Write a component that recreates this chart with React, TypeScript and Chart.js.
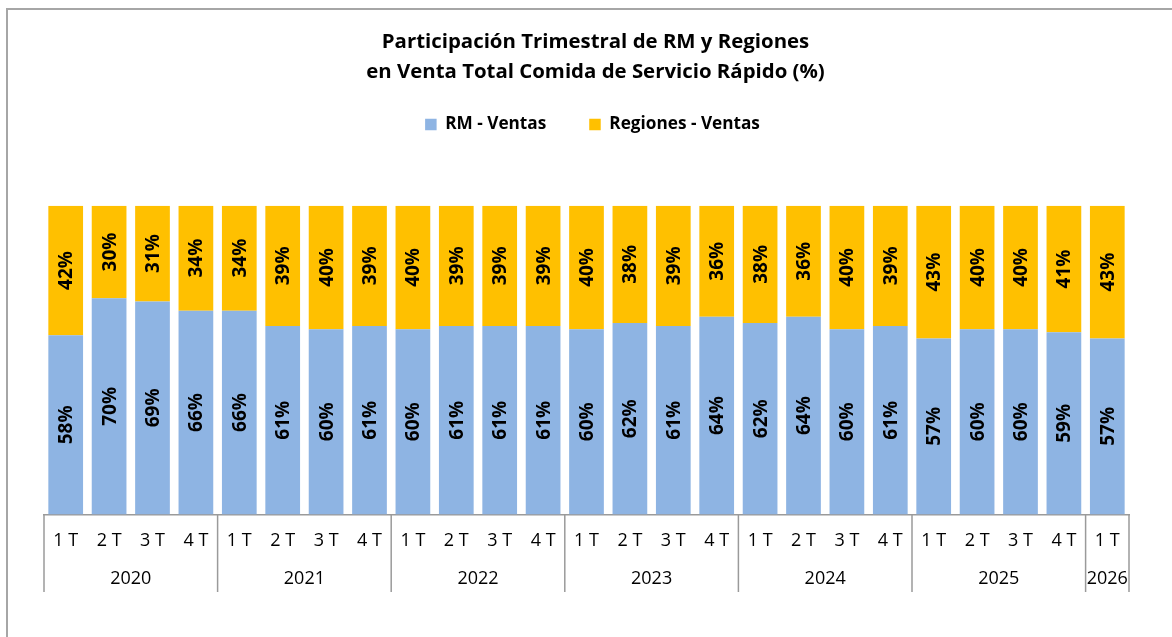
import React, { useEffect, useRef } from "react";
import { Chart, registerables } from "chart.js";

Chart.register(...registerables);

const titleLines = [
  "Participación Trimestral de RM y Regiones",
  "en Venta Total Comida de Servicio Rápido (%)",
];

const quarters = [
  "1 T", "2 T", "3 T", "4 T",
  "1 T", "2 T", "3 T", "4 T",
  "1 T", "2 T", "3 T", "4 T",
  "1 T", "2 T", "3 T", "4 T",
  "1 T", "2 T", "3 T", "4 T",
  "1 T", "2 T", "3 T", "4 T",
  "1 T",
];

const years = ["2020", "2021", "2022", "2023", "2024", "2025", "2026"];
const quartersPerYear = [4, 4, 4, 4, 4, 4, 1];

const rmVentas = [
  58, 70, 69, 66,
  66, 61, 60, 61,
  60, 61, 61, 61,
  60, 62, 61, 64,
  62, 64, 60, 61,
  57, 60, 60, 59,
  57,
];

const regionesVentas = [
  42, 30, 31, 34,
  34, 39, 40, 39,
  40, 39, 39, 39,
  40, 38, 39, 36,
  38, 36, 40, 39,
  43, 40, 40, 41,
  43,
];

const FONT = "'Open Sans', Lato, sans-serif";

const legendSpacing = {
  id: "legendSpacing",
  beforeInit(chart: any) {
    const legend = chart.legend;
    if (!legend) return;
    const origFit = legend.fit;
    legend.fit = function () {
      origFit.bind(legend)();
      this.height += 62.5;
    };
  },
  afterLayout(chart: any) {
    if (chart.titleBlock) chart.titleBlock.left += 18;
    if (chart.legend) chart.legend.left += 12;
  },
};

const dataLabels = {
  id: "dataLabels",
  afterDatasetsDraw(chart: any) {
    const ctx = chart.ctx;
    chart.data.datasets.forEach((ds: any, i: number) => {
      const meta = chart.getDatasetMeta(i);
      meta.data.forEach((el: any, j: number) => {
        const p = el.getProps(["x", "y", "base"], true);
        const cy = (p.y + p.base) / 2;
        ctx.save();
        ctx.translate(p.x, cy);
        ctx.rotate(-Math.PI / 2);
        ctx.textAlign = "center";
        ctx.textBaseline = "middle";
        ctx.fillStyle = "#000";
        ctx.font = `bold 19px ${FONT}`;
        ctx.fillText(`${ds.data[j]}%`, 0, 1);
        ctx.restore();
      });
    });
  },
};

const yearAxis = {
  id: "yearAxis",
  afterDraw(chart: any) {
    const ctx = chart.ctx;
    const x = chart.scales.x;
    const area = chart.chartArea;
    const n = quarters.length;
    const pitch = (x.right - x.left) / n;
    const lineBottom = 592;
    ctx.save();
    ctx.strokeStyle = "#9a9a9a";
    ctx.lineWidth = 1.5;
    let idx = 0;
    const drawLine = (px: number) => {
      ctx.beginPath();
      ctx.moveTo(px, area.bottom);
      ctx.lineTo(px, lineBottom);
      ctx.stroke();
    };
    drawLine(x.left);
    ctx.fillStyle = "#000";
    ctx.font = `18px ${FONT}`;
    ctx.textAlign = "center";
    ctx.textBaseline = "middle";
    years.forEach((yr, g) => {
      const start = x.left + idx * pitch;
      idx += quartersPerYear[g];
      const end = x.left + idx * pitch;
      drawLine(end);
      ctx.fillText(yr, (start + end) / 2, 579);
    });
    ctx.restore();
  },
};

export default function App() {
  const ref = useRef<HTMLCanvasElement | null>(null);

  useEffect(() => {
    if (!ref.current) return;
    const chart = new Chart(ref.current, {
      type: "bar",
      data: {
        labels: quarters,
        datasets: [
          {
            label: "RM - Ventas",
            data: rmVentas,
            backgroundColor: "#8EB4E3",
            borderWidth: 0,
            barPercentage: 0.8,
            categoryPercentage: 1,
          },
          {
            label: "Regiones - Ventas",
            data: regionesVentas,
            backgroundColor: "#FFC000",
            borderWidth: 0,
            barPercentage: 0.8,
            categoryPercentage: 1,
          },
        ],
      },
      options: {
        responsive: false,
        animation: false,
        layout: { padding: { left: 44, right: 43, top: 0, bottom: 69 } },
        scales: {
          x: {
            stacked: true,
            grid: { display: false, drawTicks: false },
            border: { display: true, color: "#9a9a9a", width: 1.5 },
            ticks: {
              color: "#000",
              font: { family: FONT, size: 18 },
              padding: 16,
              maxRotation: 0,
              autoSkip: false,
            },
          },
          y: {
            stacked: true,
            display: false,
            min: 0,
            max: 100,
          },
        },
        plugins: {
          title: {
            display: true,
            text: titleLines,
            color: "#000",
            font: { family: FONT, size: 20.4, weight: "bold", lineHeight: "30px" },
            padding: { top: 27, bottom: -14 },
          },
          legend: {
            display: true,
            position: "top",
            labels: {
              color: "#000",
              boxWidth: 11.5,
              boxHeight: 11.5,
              padding: 43,
              font: { family: FONT, size: 17.2, weight: "bold" },
            },
          },
          tooltip: { enabled: false },
        },
      },
      plugins: [legendSpacing, dataLabels, yearAxis],
    });
    return () => chart.destroy();
  }, []);

  return (
    <div
      style={{
        position: "absolute",
        left: 0,
        top: 0,
        width: 1172,
        height: 637,
        overflow: "hidden",
        background: "#fff",
      }}
    >
      <div
        style={{
          position: "absolute",
          left: 6,
          top: 8,
          width: 1300,
          height: 800,
          border: "2px solid #a6a6a6",
        }}
      />
      <canvas
        ref={ref}
        width={1172}
        height={637}
        style={{ position: "absolute", left: 0, top: 0 }}
      />
    </div>
  );
}
